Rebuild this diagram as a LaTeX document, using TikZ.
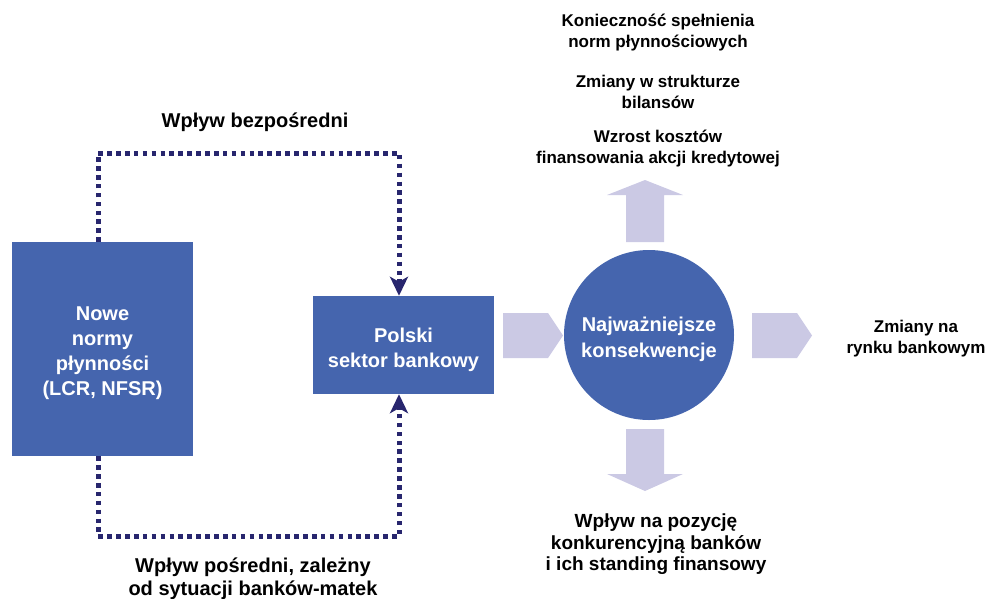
\documentclass[tikz,border=0pt]{standalone}
\usepackage{fontspec}
\setmainfont{Liberation Sans}
\usetikzlibrary{arrows.meta}
\definecolor{boxblue}{HTML}{4565AE}
\definecolor{lav}{HTML}{CBC9E4}
\definecolor{navy}{HTML}{28266E}
\begin{document}
\begin{tikzpicture}[x=1pt,y=-1pt,
  blockshape/.style={fill=boxblue, inner sep=0pt},
  blocktext/.style={text=white, font=\fontsize{20}{25}\selectfont\bfseries, align=center, inner sep=0pt},
  lbl/.style={font=\fontsize{20}{23}\selectfont\bfseries, align=center, inner sep=0pt},
  lblmid/.style={font=\fontsize{19}{21.5}\selectfont\bfseries, align=center, inner sep=0pt},
  lblsmall/.style={font=\fontsize{17}{21}\selectfont\bfseries, align=center, inner sep=0pt},
  dotline/.style={draw=navy, line width=5pt, dash pattern=on 4.6pt off 4.3pt},
  tipnavy/.style={-{Stealth[length=19pt,width=18pt,inset=5pt]}},
  fatarrow/.style={fill=lav}
]
\useasboundingbox (0,0) rectangle (988,598);

% main blocks
\node[blockshape, minimum width=181pt, minimum height=214pt] (nowe) at (102.5,349) {};
\node[blocktext] (nowe-t) at (102.5,353.5) {Nowe\\normy\\płynności\\(LCR, NFSR)};
\node[blockshape, minimum width=181pt, minimum height=98pt] (polski) at (403.5,345) {};
\node[blocktext] (polski-t) at (403.5,349.5) {Polski\\sektor bankowy};
\node[blockshape, circle, minimum size=170pt] (konsek) at (649,335) {};
\node[blocktext, font=\fontsize{20}{26}\selectfont\bfseries] (konsek-t) at (649,339.5) {Najważniejsze\\konsekwencje};

% dotted connectors
\coordinate (tl) at (98,153);
\coordinate (tr) at (399,153);
\coordinate (bl) at (98,536);
\coordinate (br) at (399,536);
\draw[dotline, tipnavy] (nowe.north -| tl) -- (tl) -- (tr) -- (polski.north -| tr);
\draw[dotline, tipnavy] (nowe.south -| bl) -- (bl) -- (br) -- (polski.south -| br);

% block arrows
\fill[fatarrow] (503,313) -- (548,313) -- (563,335.5) -- (548,358) -- (503,358) -- cycle;
\fill[fatarrow] (752,313) -- (797,313) -- (812,335.5) -- (797,358) -- (752,358) -- cycle;
\fill[fatarrow] (626,242) -- (626,195) -- (607,195) -- (645,180) -- (683,195) -- (664,195) -- (664,242) -- cycle;
\fill[fatarrow] (626,429) -- (626,474) -- (607,474) -- (645,491) -- (683,474) -- (664,474) -- (664,429) -- cycle;

% labels
\node[lbl] (direct) at (255,122) {Wpływ bezpośredni};
\node[lbl] (indirect) at (253,578.5) {Wpływ pośredni, zależny\\od sytuacji banków-matek};
\node[lblsmall] (c1) at (658,32.5) {Konieczność spełnienia\\norm płynnościowych};
\node[lblsmall] (c2) at (658,92) {Zmiany w strukturze\\bilansów};
\node[lblsmall] (c3) at (658,148.5) {Wzrost kosztów\\finansowania akcji kredytowej};
\node[lblsmall] (c4) at (916,339) {Zmiany na\\rynku bankowym};
\node[lblmid] (c5) at (656,544.5) {Wpływ na pozycję\\konkurencyjną banków\\i ich standing finansowy};
\end{tikzpicture}
\end{document}
